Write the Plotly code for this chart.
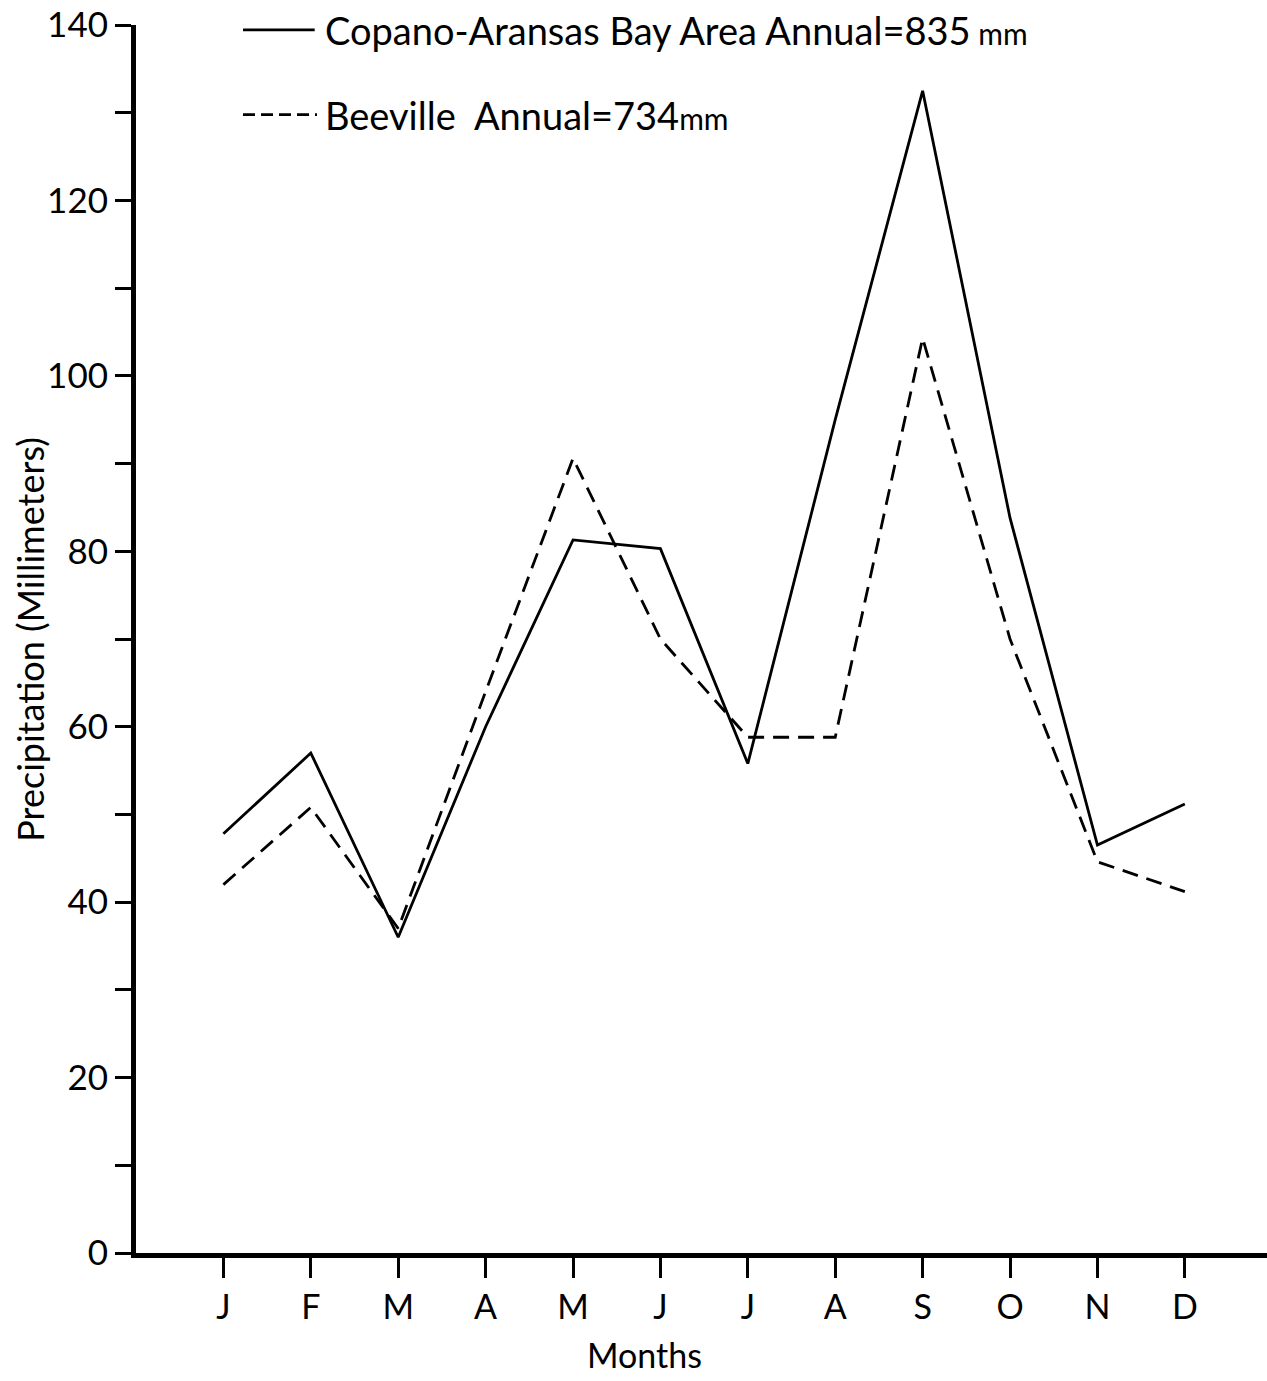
import plotly.graph_objects as go

# Monthly mean precipitation (mm)
months = ["J", "F", "M", "A", "M", "J", "J", "A", "S", "O", "N", "D"]
month_pos = list(range(1, 13))
copano_aransas = [47.8, 57.0, 36.0, 60.0, 81.3, 80.3, 55.8, 95.0, 132.5, 83.8, 46.5, 51.2]
beeville = [42.0, 50.8, 37.0, 64.0, 90.6, 70.0, 58.8, 58.8, 104.3, 70.0, 44.6, 41.2]

copano_label = "Copano-Aransas Bay Area Annual=835<span style='font-size:30px'> mm</span>"
beeville_label = "Beeville  Annual=734<span style='font-size:30px'>mm</span>"

FONT = "Lato, 'DejaVu Sans', sans-serif"

fig = go.Figure()
fig.add_trace(go.Scatter(
    x=month_pos, y=copano_aransas, mode="lines", name="Copano-Aransas Bay Area",
    line=dict(color="black", width=2.8), showlegend=False,
))
fig.add_trace(go.Scatter(
    x=month_pos, y=beeville, mode="lines", name="Beeville",
    line=dict(color="black", width=2.8, dash="16px,9px"), showlegend=False,
))

# Key: line samples plus text
fig.add_shape(type="line", xref="paper", yref="paper", x0=0.0946, x1=0.158,
              y0=0.996, y1=0.996, line=dict(color="black", width=2.6))
fig.add_shape(type="line", xref="paper", yref="paper", x0=0.0946, x1=0.160,
              y0=0.927, y1=0.927, line=dict(color="black", width=2.6, dash="12px,6px"))
fig.add_annotation(xref="paper", yref="paper", x=0.165, y=0.996, text=copano_label,
                   showarrow=False, xanchor="left", yanchor="middle",
                   font=dict(family=FONT, size=38, color="black"))
fig.add_annotation(xref="paper", yref="paper", x=0.165, y=0.927, text=beeville_label,
                   showarrow=False, xanchor="left", yanchor="middle",
                   font=dict(family=FONT, size=38, color="black"))

# Axis titles
fig.add_annotation(xref="paper", yref="paper", x=-0.094, y=0.50,
                   text="Precipitation (Millimeters)", textangle=-90, showarrow=False,
                   xanchor="center", yanchor="middle",
                   font=dict(family=FONT, size=36, color="black"))
fig.add_annotation(xref="paper", yref="paper", x=0.45, y=-0.083, text="Months",
                   showarrow=False, xanchor="center", yanchor="middle",
                   font=dict(family=FONT, size=34, color="black"))

fig.update_layout(
    width=1267, height=1381,
    margin=dict(l=136, r=0, t=25, b=128),
    paper_bgcolor="white", plot_bgcolor="white",
    font=dict(family=FONT, color="black"),
    xaxis=dict(
        range=[0, 12.94], tickmode="array", tickvals=month_pos, ticktext=months,
        showgrid=False, zeroline=False, showline=True, linecolor="black", linewidth=5,
        ticks="outside", ticklen=20, tickwidth=2.5, tickcolor="black",
        tickfont=dict(family=FONT, size=34, color="black"),
    ),
    yaxis=dict(
        range=[0, 140], tickmode="linear", tick0=0, dtick=20,
        showgrid=False, zeroline=False, showline=True, linecolor="black", linewidth=5,
        ticks="outside", ticklen=16, tickwidth=2.5, tickcolor="black",
        tickfont=dict(family=FONT, size=35, color="black"),
        minor=dict(dtick=10, ticks="outside", ticklen=16, tickwidth=2.5,
                   tickcolor="black", showgrid=False),
    ),
)

fig.write_html("out.html")
